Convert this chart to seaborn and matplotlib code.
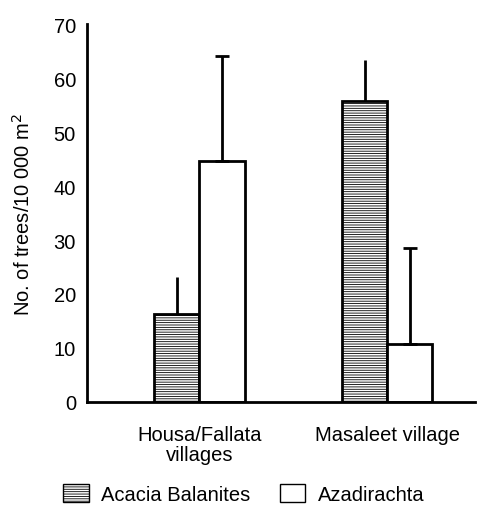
import pandas as pd
import numpy as np
import matplotlib
matplotlib.use("Agg")
import matplotlib.pyplot as plt
import seaborn as sns
from matplotlib.patches import Patch

villages = ["Housa/Fallata\nvillages", "Masaleet village"]
species = ["Acacia Balanites", "Azadirachta"]
acacia_mean = [16.3, 55.7]
acacia_err = [6.8, 7.6]
azad_mean = [44.6, 10.7]
azad_err = [19.6, 17.8]
hatches = ["-------", ""]

sns.set_style("white", {"text.color": "black", "axes.labelcolor": "black",
                        "xtick.color": "black", "ytick.color": "black"})
plt.rcParams["font.family"] = ["Liberation Sans", "DejaVu Sans"]
plt.rcParams["hatch.linewidth"] = 0.6

df = pd.DataFrame({
    "village": villages * 2,
    "species": [species[0]] * 2 + [species[1]] * 2,
    "trees": acacia_mean + azad_mean,
})
errs = acacia_err + azad_err

fig = plt.figure(figsize=(4.78, 5.06), dpi=100)
ax = fig.add_axes([0.182, 0.204, 0.812, 0.746])
sns.barplot(data=df, x="village", y="trees", hue="species", order=villages,
            hue_order=species, palette=["white", "white"], edgecolor="black",
            linewidth=2, width=0.48, gap=0, errorbar=None, legend=False, ax=ax)

bars = ax.patches
for i, bar in enumerate(bars):
    sp = i // len(villages)
    bar.set_hatch(hatches[sp])
    x = bar.get_x() + bar.get_width() / 2
    h = bar.get_height()
    ax.errorbar(x, h, yerr=[[0], [errs[i]]], fmt="none", ecolor="black",
                elinewidth=2, capsize=5 if sp == 1 else 0, capthick=2, zorder=1)

ax.set_ylim(0, 70)
ax.set_xlim(-0.6, 1.47)
ax.set_yticks(np.arange(0, 71, 10))
ax.tick_params(axis="y", labelsize=14.5, length=0, pad=8, labelcolor="black")
ax.tick_params(axis="x", labelsize=14.5, length=0, pad=17, labelcolor="black")
for lbl in ax.get_xticklabels():
    lbl.set_linespacing(1.05)
ax.set_xlabel("")
ax.set_ylabel("No. of trees/10 000 m$^2$", fontsize=14.5, labelpad=14, color="black")
sns.despine(ax=ax)
for s in ["left", "bottom"]:
    ax.spines[s].set_linewidth(2)
    ax.spines[s].set_color("black")

handles = [Patch(facecolor="white", edgecolor="black", hatch=hatches[k], label=species[k])
           for k in range(2)]
fig.legend(handles=handles, loc="center", bbox_to_anchor=(0.51, 0.022), ncol=2,
           frameon=False, fontsize=14.5, handlelength=1.25, handleheight=1.0,
           columnspacing=1.5, handletextpad=0.6, borderpad=0, labelcolor="black")

fig.savefig("out.png", dpi=100)
